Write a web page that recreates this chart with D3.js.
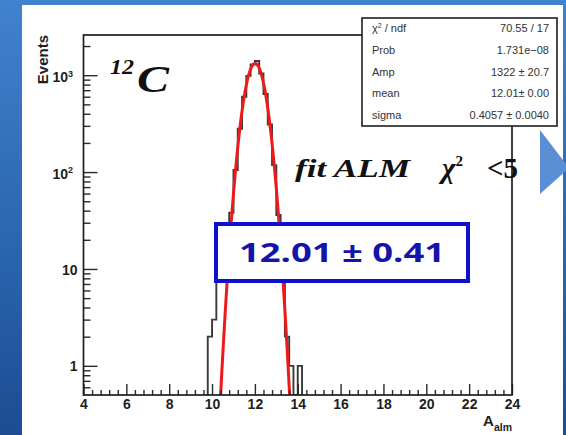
<!DOCTYPE html>
<html>
<head>
<meta charset="utf-8">
<script src="https://cdn.jsdelivr.net/npm/d3@7"></script>
<style>
  html, body { margin: 0; padding: 0; overflow: hidden; background: #2a62ab; }
  svg { display: block; }
</style>
</head>
<body>
<svg id="chart" width="566" height="435"></svg>
<script>
// ---- histogram of A_alm (bin lower edges, counts per bin) ----
const binLow    = [9.8, 10.0, 10.2, 10.4, 10.6, 10.8, 11.0, 11.2, 11.4, 11.6, 11.8,
                   12.0, 12.2, 12.4, 12.6, 12.8, 13.0, 13.2, 13.4, 13.6, 13.8, 14.0];
const binCounts = [2, 3, 9, 14, 20, 38, 105, 280, 600, 985, 1290,
                   1400, 1040, 640, 310, 118, 36, 8, 2, 1, 0, 1];
const binWidth = 0.2;

// ---- gaussian fit parameters ----
const fitAmp = 1322;
const fitMean = 12.01;
const fitSigma = 0.4057;

// ---- stats box ----
const statsLabels = ["/ ndf", "Prob", "Amp", "mean", "sigma"];
const statsValues = ["70.55 / 17", "1.731e\u221208", "1322 \u00b1 20.7", "12.01\u00b1 0.00", "0.4057 \u00b1 0.0040"];

// ---- axes ----
const xDomain = [4, 24];
const yDomain = [0.5, 2600];
const xMajorTicks = [4, 6, 8, 10, 12, 14, 16, 18, 20, 22, 24];
const yMajorTicks = [1, 10, 100, 1000];
const yMinorTicks = [0.6, 0.7, 0.8, 0.9, 2, 3, 4, 5, 6, 7, 8, 9,
                     20, 30, 40, 50, 60, 70, 80, 90, 200, 300, 400, 500, 600, 700, 800, 900, 2000];
const resultLabel = "12.01 \u00b1 0.41";

const svg = d3.select("#chart");
const W = 566, H = 435;
const plot = { left: 83.5, right: 512, top: 35, bottom: 395 };

const defs = svg.append("defs");
const bg = defs.append("linearGradient").attr("id", "bg").attr("x1", 0).attr("y1", 0).attr("x2", 0).attr("y2", 1);
bg.append("stop").attr("offset", "0%").attr("stop-color", "#4182cc");
bg.append("stop").attr("offset", "55%").attr("stop-color", "#2b66b0");
bg.append("stop").attr("offset", "100%").attr("stop-color", "#1d4c92");
defs.append("clipPath").attr("id", "plotClip").append("rect")
  .attr("x", plot.left).attr("y", plot.top)
  .attr("width", plot.right - plot.left).attr("height", plot.bottom - plot.top);

// slide background and white panel
svg.append("rect").attr("width", W).attr("height", H).attr("fill", "url(#bg)");
svg.append("rect").attr("x", 22).attr("y", 5).attr("width", 541).attr("height", 430).attr("fill", "#ffffff");

const x = d3.scaleLinear().domain(xDomain).range([plot.left, plot.right]);
const y = d3.scaleLog().domain(yDomain).range([plot.bottom, plot.top]);

// ---- histogram outline ----
const yb = v => v > 0 ? y(v) : plot.bottom;
let pts = [[x(binLow[0]), plot.bottom]];
binLow.forEach((lo, i) => {
  pts.push([x(lo), yb(binCounts[i])]);
  pts.push([x(lo + binWidth), yb(binCounts[i])]);
});
pts.push([x(binLow[binLow.length - 1] + binWidth), plot.bottom]);
svg.append("path")
  .attr("clip-path", "url(#plotClip)")
  .attr("d", d3.line()(pts))
  .attr("fill", "none")
  .attr("stroke", "#3a3a3a")
  .attr("stroke-width", 1.9);

// ---- fit curve ----
const gauss = t => fitAmp * Math.exp(-0.5 * Math.pow((t - fitMean) / fitSigma, 2));
const fitX = d3.range(fitMean - 5 * fitSigma, fitMean + 5 * fitSigma, 0.01);
svg.append("path")
  .attr("clip-path", "url(#plotClip)")
  .attr("d", d3.line().x(d => x(d)).y(d => y(gauss(d)))(fitX))
  .attr("fill", "none")
  .attr("stroke", "#ee1a1a")
  .attr("stroke-width", 3)
  .attr("stroke-linejoin", "round");

// ---- axes (ticks inside the frame) ----
const axisFont = "'Liberation Sans', Arial, sans-serif";
const xMinor = d3.range(4, 24.0001, 0.4).filter(v => Math.abs(v / 2 - Math.round(v / 2)) > 1e-6);

const gxMinor = svg.append("g").attr("transform", `translate(0,${plot.bottom})`)
  .call(d3.axisBottom(x).tickValues(xMinor).tickSize(-5).tickFormat(""));
const gx = svg.append("g").attr("transform", `translate(0,${plot.bottom})`)
  .call(d3.axisBottom(x).tickValues(xMajorTicks).tickSize(-11).tickPadding(5).tickFormat(d3.format("d")));
const gyMinor = svg.append("g").attr("transform", `translate(${plot.left},0)`)
  .call(d3.axisLeft(y).tickValues(yMinorTicks).tickSize(-7).tickFormat(""));
const gy = svg.append("g").attr("transform", `translate(${plot.left},0)`)
  .call(d3.axisLeft(y).tickValues(yMajorTicks).tickSize(-14).tickPadding(6).tickFormat(d3.format("d")));

[gxMinor, gx, gyMinor, gy].forEach(g => {
  g.select(".domain").remove();
  g.selectAll(".tick line").attr("stroke", "#2a2a2a").attr("stroke-width", 1.4);
});
gx.selectAll(".tick text")
  .attr("font-family", axisFont).attr("font-weight", "bold").attr("font-size", 14)
  .attr("fill", "#1e1e1e").attr("dy", "0.71em").attr("y", 4.5);
gy.selectAll(".tick text")
  .attr("font-family", axisFont).attr("font-weight", "bold").attr("font-size", 14)
  .attr("fill", "#1e1e1e").attr("dy", "0.36em")
  .each(function (d) {
    if (d >= 100) {
      const t = d3.select(this);
      t.text("").attr("x", -10.5).attr("dy", "0.45em");
      t.append("tspan").text("10");
      t.append("tspan").text(String(Math.round(Math.log10(d))))
        .attr("font-size", 9).attr("dy", "-0.6em");
    }
  });

// frame
const frame = svg.append("g").attr("fill", "none").attr("stroke", "#1e1e1e").attr("stroke-width", 1.7);
frame.append("rect").attr("x", plot.left).attr("y", plot.top)
  .attr("width", plot.right - plot.left).attr("height", plot.bottom - plot.top);

// axis titles
svg.append("text")
  .attr("transform", `translate(48,${plot.top}) rotate(-90)`)
  .attr("text-anchor", "end")
  .attr("font-family", axisFont).attr("font-weight", "bold").attr("font-size", 15)
  .attr("fill", "#1e1e1e").text("Events");
const xt = svg.append("text")
  .attr("x", plot.right).attr("y", 426).attr("text-anchor", "end")
  .attr("font-family", axisFont).attr("font-weight", "bold").attr("font-size", 15).attr("fill", "#1e1e1e");
xt.append("tspan").text("A");
xt.append("tspan").text("alm").attr("font-size", 10.5).attr("dy", 4.5);

// ---- annotations ----
const serif = "'Liberation Serif', 'Times New Roman', serif";
svg.append("text").attr("x", 110).attr("y", 74)
  .attr("font-family", serif).attr("font-style", "italic").attr("font-weight", "bold")
  .attr("font-size", 20).attr("fill", "#111")
  .attr("textLength", 24).attr("lengthAdjust", "spacingAndGlyphs").text("12");
svg.append("text").attr("x", 137).attr("y", 92)
  .attr("font-family", serif).attr("font-style", "italic").attr("font-weight", "bold")
  .attr("font-size", 37).attr("fill", "#111")
  .attr("textLength", 32).attr("lengthAdjust", "spacingAndGlyphs").text("C");
svg.append("text").attr("x", 295).attr("y", 177)
  .attr("font-family", serif).attr("font-style", "italic").attr("font-weight", "bold")
  .attr("font-size", 26).attr("fill", "#111")
  .attr("textLength", 115).attr("lengthAdjust", "spacingAndGlyphs").text("fit ALM");
const chi = svg.append("text").attr("x", 442).attr("y", 178)
  .attr("font-family", serif).attr("font-weight", "bold")
  .attr("font-size", 29).attr("fill", "#111");
chi.append("tspan").text("\u03c7").attr("font-style", "italic");
chi.append("tspan").text("2").attr("font-size", 15).attr("dy", -12);
chi.append("tspan").text("<5").attr("x", 487).attr("dy", 12);

// ---- stats box ----
const sb = { x: 362, y: 18, w: 195, h: 108 };
svg.append("rect").attr("x", sb.x).attr("y", sb.y).attr("width", sb.w).attr("height", sb.h)
  .attr("fill", "#ffffff").attr("stroke", "#1e1e1e").attr("stroke-width", 1.6);
const rowY = d3.scaleLinear().domain([0, 4]).range([32, 119]);
statsLabels.forEach((lab, i) => {
  const t = svg.append("text").attr("x", 372).attr("y", rowY(i))
    .attr("font-family", axisFont).attr("font-size", 11).attr("fill", "#333");
  if (i === 0) {
    t.append("tspan").text("\u03c7");
    t.append("tspan").text("2").attr("font-size", 7).attr("dy", -4);
    t.append("tspan").text(" " + lab).attr("dy", 4);
  } else {
    t.text(lab);
  }
  svg.append("text").attr("x", 549).attr("y", rowY(i)).attr("text-anchor", "end")
    .attr("font-family", axisFont).attr("font-size", 11).attr("fill", "#333")
    .text(statsValues[i]);
});

// ---- result box ----
svg.append("rect").attr("x", 216).attr("y", 224).attr("width", 252).attr("height", 57)
  .attr("fill", "#ffffff").attr("stroke", "#0d10cc").attr("stroke-width", 4);
svg.append("text").attr("x", 342).attr("y", 262).attr("text-anchor", "middle")
  .attr("font-family", "'Open Sans', 'DejaVu Sans', sans-serif").attr("font-weight", "bold")
  .attr("font-size", 26).attr("fill", "#1414ac")
  .attr("textLength", 206).attr("lengthAdjust", "spacingAndGlyphs")
  .text(resultLabel);

// slide arrow shape at the right edge
svg.append("path")
  .attr("d", "M540,130 L569,168 L540,194 Z")
  .attr("fill", "#5b8fd5");
</script>
</body>
</html>
